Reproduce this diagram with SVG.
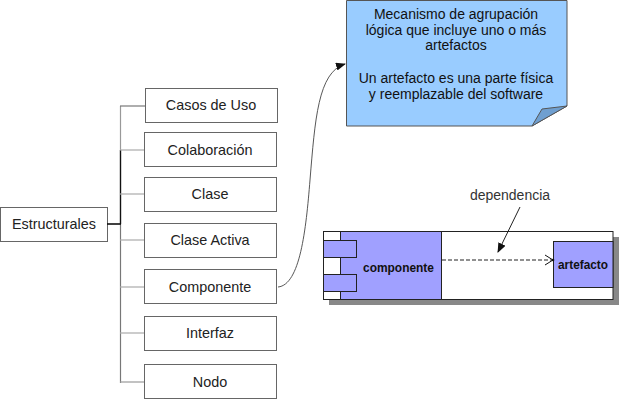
<svg xmlns="http://www.w3.org/2000/svg" width="620" height="400" viewBox="0 0 620 400">
<defs>
<style>
.box{fill:#fff;stroke:#666;stroke-width:1}
.lbl{font-family:"Liberation Sans",Arial,sans-serif;font-size:14.4px;fill:#222;text-anchor:middle}
.note{font-family:"Liberation Sans",Arial,sans-serif;font-size:14px;fill:#111;text-anchor:middle}
.cmp{font-family:"Liberation Sans",Arial,sans-serif;font-weight:bold;font-size:13.5px;fill:#111;text-anchor:middle}
.purple{fill:#a0a0ff;stroke:#222;stroke-width:1}
</style>
<marker id="ah" markerWidth="10" markerHeight="8" refX="9" refY="4" orient="auto" markerUnits="userSpaceOnUse">
<path d="M0,0 L10,4 L0,8 Z" fill="#111"/>
</marker>
<marker id="open" markerWidth="10" markerHeight="12" refX="9" refY="6" orient="auto" markerUnits="userSpaceOnUse">
<path d="M1,1 L9,6 L1,11" fill="none" stroke="#111" stroke-width="1"/>
</marker>
</defs>
<rect width="620" height="400" fill="#fff"/>

<g id="estructurales">
<rect class="box" x="0.5" y="207.5" width="107" height="34"/>
<text class="lbl" x="54" y="229">Estructurales</text>
</g>
<g id="casos">
<rect class="box" x="145.5" y="88.5" width="132" height="34"/>
<text class="lbl" x="211" y="110">Casos de Uso</text>
</g>
<g id="colaboracion">
<rect class="box" x="144.5" y="132.5" width="132" height="34"/>
<text class="lbl" x="210" y="155">Colaboración</text>
</g>
<g id="clase">
<rect class="box" x="144.5" y="177.5" width="132" height="34"/>
<text class="lbl" x="210" y="199">Clase</text>
</g>
<g id="claseactiva">
<rect class="box" x="144.5" y="223.5" width="132" height="34"/>
<text class="lbl" x="210" y="245">Clase Activa</text>
</g>
<g id="componente">
<rect class="box" x="144.5" y="269.5" width="132" height="34"/>
<text class="lbl" x="210" y="292">Componente</text>
</g>
<g id="interfaz">
<rect class="box" x="144.5" y="316.5" width="132" height="34"/>
<text class="lbl" x="210" y="338">Interfaz</text>
</g>
<g id="nodo">
<rect class="box" x="144.5" y="364.5" width="132" height="34"/>
<text class="lbl" x="210" y="387">Nodo</text>
</g>

<g id="nota">
<path d="M346.5,0.5 L567,0.5 L567,106 L532,126 L346.5,126 Z" fill="#99ccff" stroke="#555" stroke-width="1"/>
<path d="M532,126 L542,109 L567,106 Z" fill="#6f9fd0" stroke="#555" stroke-width="1"/>
<text class="note" x="456" y="19">Mecanismo de agrupación</text>
<text class="note" x="456" y="34.5">lógica que incluye uno o más</text>
<text class="note" x="456" y="50">artefactos</text>
<text class="note" x="456" y="82.5">Un artefacto es una parte física</text>
<text class="note" x="456" y="98.5">y reemplazable del software</text>
</g>

<g id="diagrama-componente">
<rect x="329" y="237" width="290" height="68" fill="#888"/>
<rect x="323.5" y="231.5" width="289.5" height="68" fill="#fff" stroke="#222" stroke-width="1"/>
<rect class="purple" x="340.5" y="231.5" width="101" height="68"/>
<rect class="purple" x="323.5" y="240.5" width="33" height="17"/>
<rect class="purple" x="323.5" y="274.5" width="33" height="17"/>
<text class="cmp" x="398.5" y="271.5" font-size="14.5" textLength="71" lengthAdjust="spacingAndGlyphs">componente</text>
</g>
<g id="artefacto">
<rect class="purple" x="553.5" y="241.5" width="59.5" height="46"/>
<text class="cmp" x="583" y="268.5" textLength="50" lengthAdjust="spacingAndGlyphs">artefacto</text>
</g>
<g id="dependencia">
<text x="510" y="200" font-family="'Liberation Sans',Arial,sans-serif" font-size="14" fill="#333" text-anchor="middle">dependencia</text>
</g>

<g id="connectors">
<line x1="120.5" y1="106" x2="120.5" y2="150" stroke="#999" stroke-width="1.2"/>
<line x1="120.5" y1="150" x2="120.5" y2="224" stroke="#111" stroke-width="1.4"/>
<line x1="120.5" y1="224" x2="120.5" y2="383" stroke="#777" stroke-width="1.2"/>
<line x1="107" y1="224" x2="121" y2="224" stroke="#111" stroke-width="1.6"/>
<line x1="120" y1="106" x2="145" y2="106" stroke="#777" stroke-width="1.2"/>
<line x1="120" y1="150" x2="144" y2="150" stroke="#aaa" stroke-width="1.2"/>
<line x1="120" y1="194" x2="144" y2="194" stroke="#aaa" stroke-width="1.2"/>
<line x1="120" y1="240" x2="144" y2="240" stroke="#aaa" stroke-width="1.2"/>
<line x1="120" y1="287" x2="144" y2="287" stroke="#aaa" stroke-width="1.2"/>
<line x1="120" y1="333" x2="144" y2="333" stroke="#aaa" stroke-width="1.2"/>
<line x1="120" y1="382" x2="144" y2="382" stroke="#999" stroke-width="1.2"/>
<path d="M278,287 C300,285 306,230 310,180 C315,120 318,72 345,64" fill="none" stroke="#444" stroke-width="0.9" marker-end="url(#ah)"/>
<line x1="442" y1="260" x2="553" y2="260" stroke="#222" stroke-width="1.2" stroke-dasharray="4,2" marker-end="url(#open)"/>
<circle cx="553" cy="260" r="1.3" fill="#111"/>
<line x1="520" y1="207" x2="498" y2="252" stroke="#222" stroke-width="1" marker-end="url(#ah)"/>
</g>
</svg>
